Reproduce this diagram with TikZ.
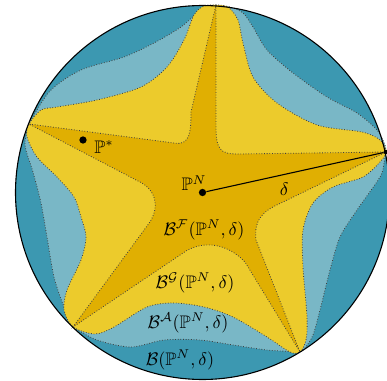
\documentclass[tikz,border=0pt]{standalone}
\usepackage{amsmath}
\usepackage{amssymb}
\usepackage{tikz}
\usetikzlibrary{calc}
\definecolor{azulesc}{RGB}{60,152,177}
\definecolor{azulcla}{RGB}{121,183,198}
\definecolor{amarelo}{RGB}{236,203,44}
\definecolor{ouro}{RGB}{224,175,2}

\begin{document}
\begin{tikzpicture}[x=0.55pt,y=-0.55pt,
  fronteira/.style={densely dotted,line width=0.45pt,draw=black!75},
  ponto/.style={circle,fill=black,inner sep=0pt,minimum size=4pt}]
\useasboundingbox (0,0) rectangle (387,381);
% Centro e pontas da estrela
\coordinate (O) at (202.5,192.5);
\coordinate (T1) at (216,5);
\coordinate (T2) at (386,152);
\coordinate (T3) at (300,352);
\coordinate (T4) at (73,327);
\coordinate (T5) at (29,124);
% Bola B
\fill[azulesc] (O) circle (187);
% Regiao B^A
\filldraw[fill=azulcla,fronteira]
  plot[smooth] coordinates {(T1) (230,7) (243,13) (253,27) (267,50) (293,73) (327,97) (357,113) (377,130) (385,145) (T2)}
  -- plot[smooth] coordinates {(T2) (384,163) (380,177) (357,210) (340,237) (330,270) (320,310) (313,335) (305,348) (T3)}
  -- plot[smooth] coordinates {(T3) (267,350) (233,345) (200,340) (164,340) (131,347) (97,340) (T4)}
  -- plot[smooth] coordinates {(T4) (64,307) (54,277) (47,237) (41,203) (33,172) (25,145) (T5)}
  -- plot[smooth] coordinates {(T5) (50,91) (81,70) (124,57) (154,43) (181,27) (200,11) (T1)}
  -- cycle;
% Regiao B^G
\filldraw[fill=amarelo,fronteira] plot[smooth cycle] coordinates {
  (T1) (228,7) (238,20) (243,43) (253,77) (277,103) (317,125) (362,132) (380,140)
  (T2) (380,162) (363,177) (333,187) (313,203) (303,230) (303,267) (307,317) (306,340)
  (T3) (290,352) (267,337) (233,317) (204,307) (174,303) (147,307) (114,327) (95,334)
  (T4) (64,310) (67,290) (81,260) (86,237) (81,217) (74,197) (57,177) (37,157) (27,137)
  (T5) (41,110) (57,107) (97,100) (141,87) (167,67) (184,40) (194,15) (204,6)};
% Regiao B^F
\filldraw[fill=ouro,fronteira] (T1) -- (216,125) .. controls (216,150) and (220,154) .. (238,154)
  -- (T2) -- (281,203) .. controls (260,212) and (254,222) .. (256,240)
  -- (T3) -- (245,262) .. controls (228,244) and (205,240) .. (186,251)
  -- (T4) -- (147,226) .. controls (160,210) and (158,190) .. (138,181)
  -- (T5) -- (174,143) .. controls (190,146) and (191,132) .. (191,112) -- cycle;
\draw[line width=0.6pt] (O) circle (187);
% Pontos e raio
\node[ponto] (PN) at (O) {};
\node[ponto,minimum size=2.5pt] (Pfim) at (T2) {};
\node[ponto] (Pst) at (83,140) {};
\draw[line width=0.6pt] (PN) -- (Pfim) node[pos=0.44,below=1pt] (ldelta) {$\delta$};
% Rotulos
\node (lPN) at (194,183) {$\mathbb{P}^N$};
\node (lPst) at (104,147) {$\mathbb{P}^*$};
\node (lF) at (204,230) {$\mathcal{B}^{\mathcal{F}}(\mathbb{P}^N,\delta)$};
\node (lG) at (195,283) {$\mathcal{B}^{\mathcal{G}}(\mathbb{P}^N,\delta)$};
\node (lA) at (188,323) {$\mathcal{B}^{\mathcal{A}}(\mathbb{P}^N,\delta)$};
\node (lB) at (180,360) {$\mathcal{B}(\mathbb{P}^N,\delta)$};
\end{tikzpicture}
\end{document}
